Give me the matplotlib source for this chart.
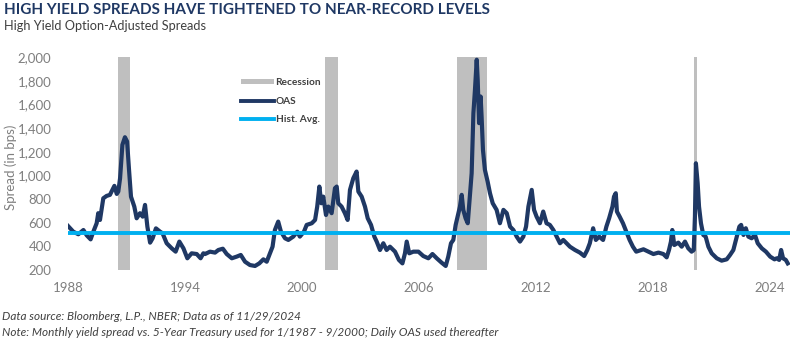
import matplotlib
matplotlib.use("Agg")
import matplotlib.pyplot as plt
from matplotlib.patches import Patch
from matplotlib.lines import Line2D
from matplotlib.ticker import FuncFormatter

plt.rcParams['font.family'] = ['Lato', 'DejaVu Sans']

# ---- data ----
years = [
    1988.00, 1988.27, 1988.53, 1988.79, 1988.96, 1989.16, 1989.30, 1989.47, 1989.55, 1989.64,
    1989.81, 1989.98, 1990.15, 1990.38, 1990.50, 1990.58, 1990.67, 1990.79, 1990.92, 1991.03,
    1991.13, 1991.23, 1991.40, 1991.52, 1991.69, 1991.83, 1991.95, 1992.07, 1992.21, 1992.34,
    1992.51, 1992.72, 1992.85, 1993.06, 1993.32, 1993.52, 1993.71, 1993.92, 1994.12, 1994.34,
    1994.60, 1994.80, 1994.94,
    1995.03, 1995.28, 1995.54, 1995.71, 1995.94, 1996.14, 1996.40, 1996.65, 1996.86, 1997.08,
    1997.33, 1997.59, 1997.81, 1998.02, 1998.19, 1998.39, 1998.49, 1998.61, 1998.78, 1998.92,
    1999.13, 1999.30, 1999.55, 1999.76, 1999.89, 2000.10, 2000.24, 2000.50, 2000.67, 2000.78,
    2000.89, 2000.99, 2001.09, 2001.23, 2001.35, 2001.52, 2001.69, 2001.78, 2001.86, 2002.03,
    2002.20,
    2002.34, 2002.46, 2002.63, 2002.80, 2002.89, 2003.06, 2003.23, 2003.37, 2003.54, 2003.71,
    2003.83, 2004.00, 2004.17, 2004.34, 2004.51, 2004.77, 2004.97, 2005.15, 2005.28, 2005.37,
    2005.50, 2005.71, 2005.97, 2006.22, 2006.48, 2006.69, 2006.91, 2007.16, 2007.37, 2007.50,
    2007.64, 2007.76, 2007.88, 2007.98, 2008.10, 2008.19, 2008.27, 2008.39, 2008.50, 2008.58,
    2008.70, 2008.79, 2008.87, 2008.96, 2009.01, 2009.08, 2009.16, 2009.21, 2009.28, 2009.38,
    2009.52, 2009.64,
    2009.78, 2009.98, 2010.15, 2010.33, 2010.50, 2010.67, 2010.84, 2011.01, 2011.18, 2011.35,
    2011.49, 2011.61, 2011.78, 2011.90, 2012.03, 2012.20, 2012.37, 2012.54, 2012.71, 2012.89,
    2013.06, 2013.23, 2013.40, 2013.57, 2013.74, 2014.00, 2014.25, 2014.47, 2014.63, 2014.76,
    2014.93, 2015.07, 2015.24, 2015.44, 2015.61, 2015.75, 2015.92, 2016.00, 2016.09, 2016.15,
    2016.29, 2016.46, 2016.63, 2016.80, 2016.97, 2017.14,
    2017.25, 2017.51, 2017.76, 2018.02, 2018.28, 2018.53, 2018.70, 2018.82, 2018.92, 2018.99,
    2019.09, 2019.30, 2019.47, 2019.64, 2019.81, 2019.98, 2020.09, 2020.15, 2020.20, 2020.29,
    2020.36, 2020.46, 2020.58, 2020.70, 2020.84, 2021.01, 2021.27, 2021.52, 2021.78, 2021.95,
    2022.12, 2022.30, 2022.43, 2022.52, 2022.64, 2022.76, 2022.89, 2023.06, 2023.23, 2023.37,
    2023.58, 2023.79, 2024.01, 2024.23, 2024.35, 2024.47, 2024.57, 2024.67, 2024.81, 2024.91,
]
oas = [
    572, 524, 502, 538, 493, 459, 524, 595, 680, 623,
    806, 826, 835, 911, 843, 863, 975, 1258, 1322, 1286,
    1046, 820, 736, 637, 680, 651, 750, 567, 431, 468,
    552, 524, 510, 426, 383, 355, 440, 383, 299, 341,
    335, 299, 341,
    335, 355, 347, 369, 380, 335, 299, 313, 327, 270,
    242, 234, 256, 290, 270, 355, 397, 538, 609, 524,
    468, 454, 482, 524, 482, 524, 581, 595, 623, 736,
    905, 764, 820, 665, 736, 680, 891, 905, 764, 736,
    680,
    623, 877, 975, 1032, 863, 820, 736, 637, 581, 482,
    440, 369, 426, 369, 397, 355, 285, 256, 341, 440,
    341, 355, 355, 318, 299, 335, 299, 262, 234, 313,
    426, 454, 581, 651, 736, 835, 708, 637, 595, 764,
    1018, 1525, 1723, 1977, 1807, 1441, 1666, 1497, 1215, 1046,
    947, 849,
    764, 708, 595, 708, 680, 567, 538, 482, 440, 482,
    567, 736, 877, 708, 651, 595, 694, 595, 581, 538,
    482, 426, 454, 426, 397, 369, 347, 318, 369, 426,
    553, 454, 482, 454, 567, 637, 736, 820, 849, 694,
    651, 595, 524, 454, 397, 355,
    361, 375, 355, 335, 347, 335, 307, 369, 440, 538,
    411, 431, 397, 440, 383, 355, 369, 651, 1102, 933,
    736, 595, 496, 482, 397, 341, 299, 279, 290, 327,
    369, 482, 567, 581, 496, 553, 482, 468, 496, 426,
    383, 355, 313, 290, 299, 285, 369, 299, 285, 256,
]
hist_avg = 515
recessions = [(1990.55, 1991.20), (2001.20, 2001.87), (2007.93, 2009.50), (2020.12, 2020.25)]
xticks = [1988, 1994, 2000, 2006, 2012, 2018, 2024]
yticks = [200, 400, 600, 800, 1000, 1200, 1400, 1600, 1800, 2000]

NAVY = '#1f3864'
LBLUE = '#00b0f0'
GREY = '#bfbfbf'
TICKC = '#7f7f7f'
TXT = '#404040'

fig = plt.figure(figsize=(7.9, 3.42), dpi=100)
ax = fig.add_axes([68/790, 72/342, 721.5/790, 213/342])

for a, b in recessions:
    ax.axvspan(a, b, color=GREY, lw=0, zorder=1)
ax.plot(years, oas, color=NAVY, lw=3.0, solid_joinstyle='round', zorder=2)
ax.axhline(hist_avg, color=LBLUE, lw=2.8, zorder=3)

ax.set_xlim(1988, 2025)
ax.set_ylim(200, 2000)
ax.set_xticks(xticks)
ax.set_yticks(yticks)
ax.yaxis.set_major_formatter(FuncFormatter(lambda v, p: f"{int(v):,}"))
ax.tick_params(axis='both', length=0, colors=TICKC, labelsize=9.5)
ax.tick_params(axis='y', pad=12)
ax.tick_params(axis='x', pad=9)
for s in ax.spines.values():
    s.set_visible(False)
ax.set_ylabel('Spread (in bps)', color=TICKC, fontsize=9.5)
ax.yaxis.set_label_coords(-51/721.5, 0.48)

handles = [Patch(facecolor=GREY, edgecolor='none'),
           Line2D([], [], color=NAVY, lw=2.8),
           Line2D([], [], color=LBLUE, lw=2.8)]
leg = ax.legend(handles, ['Recession', 'OAS', 'Hist. Avg.'], loc='upper left',
                bbox_to_anchor=(232/790, 1 - 69/342), bbox_transform=fig.transFigure,
                frameon=False, fontsize=7.3, handlelength=3.2, handleheight=0.5,
                handletextpad=0.2, labelspacing=0.95)
for t in leg.get_texts():
    t.set_color(TXT)
    t.set_fontweight('bold')

fig.text(4/790, 1 - 10/342, 'HIGH YIELD SPREADS HAVE TIGHTENED TO NEAR-RECORD LEVELS',
         fontsize=11, fontweight='bold', color=NAVY, va='center', ha='left')
fig.text(4/790, 1 - 26/342, 'High Yield Option-Adjusted Spreads', fontsize=9.2,
         color=TXT, va='center', ha='left')
fig.text(2/790, 1 - 317/342, 'Data source: Bloomberg, L.P., NBER; Data as of 11/29/2024',
         fontsize=8.5, style='italic', color=TXT, va='center', ha='left')
fig.text(2/790, 1 - 333/342,
         'Note: Monthly yield spread vs. 5-Year Treasury used for 1/1987 - 9/2000; Daily OAS used thereafter',
         fontsize=8.5, style='italic', color=TXT, va='center', ha='left')

fig.savefig('out.png', dpi=100)
